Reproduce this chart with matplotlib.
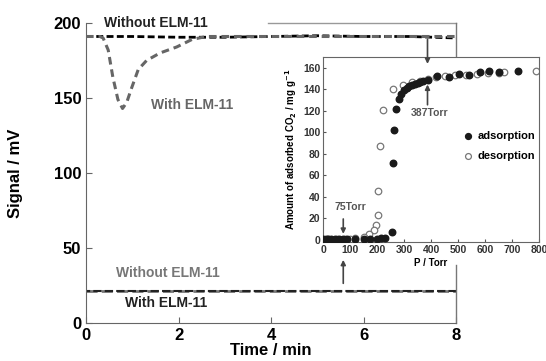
import matplotlib.pyplot as plt
import numpy as np

plt.rcParams['font.family'] = ['Liberation Sans', 'DejaVu Sans']
plt.rcParams['font.weight'] = 'bold'

# main chart: signal vs time
t_without = [0, 1, 2, 3, 4, 5, 6, 7, 8]
v_without = [191, 191, 190.5, 190.5, 191, 191.5, 191, 191, 190]

t_with = [0, 0.3, 0.37, 0.48, 0.58, 0.69, 0.79, 0.88, 0.99, 1.13, 1.31, 1.6,
          1.96, 2.29, 2.6, 3.5, 5, 6.5, 8]
v_with = [191, 191, 190, 182, 164, 149, 143, 147, 157, 169, 175, 180,
          184, 189, 191, 191, 191, 191, 191]

t_low = [0, 2, 4, 6, 8]
v_low_without = [21.5, 21.5, 21.5, 21.5, 21.5]
v_low_with = [21.3, 21.3, 21.3, 21.3, 21.3]

# inset: CO2 isotherm
p_ads = [0, 10, 20, 30, 45, 60, 75, 90, 120, 150, 175, 200, 215, 230, 255,
         258, 262, 269, 281, 290, 300, 310, 320, 330, 340, 350, 360, 370,
         387, 424, 468, 502, 540, 580, 616, 653, 723]
q_ads = [0.5, 0.5, 0.5, 0.5, 0.5, 0.5, 0.8, 0.8, 1, 1, 1, 1.2, 1.5, 2, 7.4,
         71.6, 102, 122, 131, 136, 139, 141, 143, 144, 145, 146, 147, 148,
         149, 152, 151, 154.5, 153, 156, 157, 156, 157]

p_des = [789, 672, 650, 610, 570, 530, 490, 450, 420, 390, 360, 330, 295,
         258, 221, 210, 203, 203, 196, 188, 170, 150, 120, 100, 80, 50, 20]
q_des = [157, 156, 155, 155, 154, 153, 153, 152, 151, 150, 148, 147, 144,
         140, 121, 87, 45, 23, 14, 9, 5, 3, 2, 1, 1, 0.5, 0.5]

fig = plt.figure(figsize=(5.46, 3.61), dpi=100)
ax = fig.add_axes([0.1575, 0.1053, 0.6777, 0.831])

ax.plot(t_without, v_without, color='black', lw=2, ls=(0, (2.5, 1.2)))
ax.plot(t_with, v_with, color='#666666', lw=2.2, ls=(0, (2.5, 1.6)))
ax.plot(t_low, v_low_without, color='#777777', lw=2, ls=(0, (4, 1.5)))
ax.plot(t_low, v_low_with, color='#222222', lw=1.5, ls=(2, (4, 1.5)))

ax.set_xlim(0, 8)
ax.set_ylim(0, 200)
ax.set_xticks([0, 2, 4, 6, 8])
ax.set_yticks([0, 50, 100, 150, 200])
ax.tick_params(direction='in', labelsize=12, length=4, color='#666666')
for s in ['left', 'bottom']:
    ax.spines[s].set_color('#666666')
for s in ['top', 'right']:
    ax.spines[s].set_visible(False)
ax.plot([0.492, 1], [1, 1], transform=ax.transAxes, color='#999999', lw=1, clip_on=False)
ax.plot([1, 1], [0, 0.193], transform=ax.transAxes, color='#777777', lw=1, clip_on=False)
ax.plot([1, 1], [0.886, 1], transform=ax.transAxes, color='#777777', lw=1, clip_on=False)

ax.set_xlabel('Time / min', fontsize=12, fontweight='bold', labelpad=0)
ax.set_ylabel('Signal / mV', fontsize=12, fontweight='bold', labelpad=22)

ax.text(0.38, 200, 'Without ELM-11', fontsize=10, color='#222222', va='center')
ax.text(1.4, 145, 'With ELM-11', fontsize=10, color='#666666', va='center')
ax.text(0.65, 33, 'Without ELM-11', fontsize=10, color='#777777', va='center')
ax.text(0.85, 13, 'With ELM-11', fontsize=10, color='#222222', va='center')

arrow = dict(arrowstyle='-|>', color='#444444', lw=1.2, mutation_scale=7)

# inset
ins = fig.add_axes([0.5916, 0.3296, 0.3956, 0.5125])
ins.scatter(p_des, q_des, s=22, facecolors='white', edgecolors='#777777',
            linewidths=0.9, label='desorption', zorder=2)
ins.scatter(p_ads, q_ads, s=22, color='#1a1a1a', label='adsorption', zorder=3)
ins.set_xlim(0, 800)
ins.set_ylim(-2, 170)
ins.set_xticks(np.arange(0, 801, 100))
ins.set_yticks(np.arange(0, 161, 20))
ins.tick_params(direction='in', labelsize=7.5, length=2.5, pad=2, color='#555555',
                labelcolor='#333333')
for s in ins.spines.values():
    s.set_color('#666666')
ins.set_xlabel('P / Torr', fontsize=7, fontweight='bold', labelpad=2)
ins.set_ylabel('Amount of adsorbed CO$_2$ / mg g$^{-1}$', fontsize=7,
               fontweight='bold', labelpad=3)

handles, labels = ins.get_legend_handles_labels()
ins.legend(handles[::-1], labels[::-1], loc='center right', bbox_to_anchor=(1.01, 0.52),
           frameon=False, fontsize=8, handletextpad=-0.1, markerscale=0.9,
           labelspacing=0.9, borderaxespad=0.1)

ins.annotate('', xy=(387, 147), xytext=(387, 123), arrowprops=arrow)
ins.text(395, 118, '387Torr', fontsize=7.5, color='#555555', ha='center', va='center')
ins.annotate('', xy=(75, 3), xytext=(75, 22), arrowprops=arrow)
ins.text(100, 31, '75Torr', fontsize=7.5, color='#555555', ha='center', va='center')

# arrows linking the main trace to the inset
ins.annotate('', xy=(387, 161), xytext=(387, 189), arrowprops=arrow, annotation_clip=False)
ins.annotate('', xy=(75, -16), xytext=(75, -43), arrowprops=arrow, annotation_clip=False)

fig.savefig('out.png', dpi=100)
